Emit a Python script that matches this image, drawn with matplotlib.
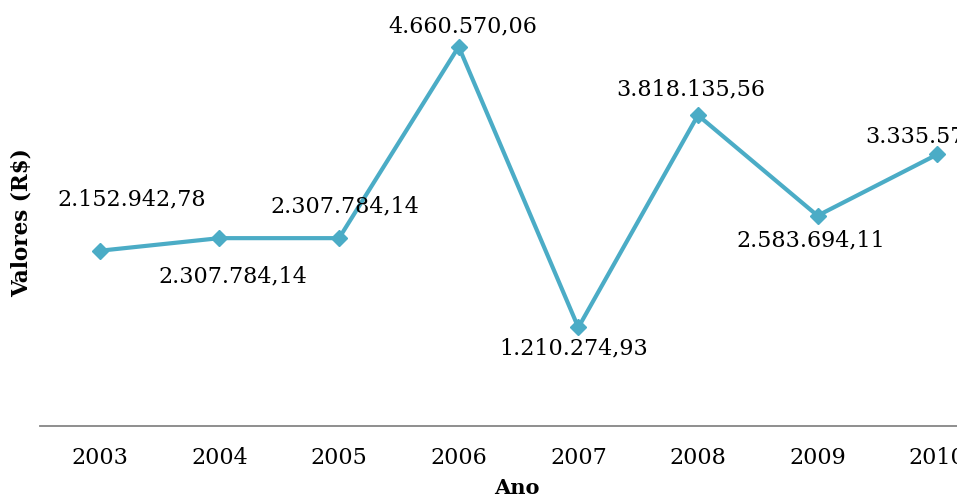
import matplotlib
matplotlib.use("Agg")
import matplotlib.pyplot as plt

# ---------------------------------------------------------------------------
# Data
# ---------------------------------------------------------------------------
anos = ["2003", "2004", "2005", "2006", "2007", "2008", "2009", "2010"]
valores = [2152942.78, 2307784.14, 2307784.14, 4660570.06,
           1210274.93, 3818135.56, 2583694.11, 3335570.00]
rotulos = ["2.152.942,78", "2.307.784,14", "2.307.784,14", "4.660.570,06",
           "1.210.274,93", "3.818.135,56", "2.583.694,11", "3.335.570,00"]

# label offsets in pixels (dx, dy)
offsets = [(32, 51), (13, -38), (6, 32), (4, 20),
           (-5, -21), (-7, 26), (-7, -25), (3, 18)]

COR = "#4BACC6"
plt.rcParams["font.family"] = ["DejaVu Serif"]

fig = plt.figure(figsize=(9.57, 4.98), dpi=100)
W, H = 957, 498
ax = fig.add_axes([40 / W, (H - 426) / H, 957 / W, (426 - 19) / H])

x = list(range(len(anos)))
ax.plot(x, valores, color=COR, lw=3.0, marker="D", markersize=8,
        markerfacecolor=COR, markeredgecolor=COR, clip_on=False, zorder=3)

for xi, v, txt, (dx, dy) in zip(x, valores, rotulos, offsets):
    ax.annotate(txt, (xi, v), xytext=(dx, dy), textcoords="offset pixels",
                ha="center", va="center", fontsize=16, color="black")

ax.set_xlim(-0.5, len(anos) - 0.5)
ax.set_ylim(0, 5000000)
ax.set_xticks(x)
ax.set_xticklabels(anos, fontsize=16)
ax.set_yticks([])
ax.tick_params(axis="x", length=0, pad=15)

for s in ["top", "right", "left"]:
    ax.spines[s].set_visible(False)
ax.spines["bottom"].set_color("#868686")
ax.spines["bottom"].set_linewidth(1.3)

fig.text(517 / W, 1 - 488 / H, "Ano", ha="center", va="center",
         fontsize=15, fontweight="bold")
fig.text(22 / W, 1 - 223 / H, "Valores (R$)", ha="center", va="center",
         rotation=90, fontsize=15.5, fontweight="bold")

fig.savefig("out.png", dpi=100)
